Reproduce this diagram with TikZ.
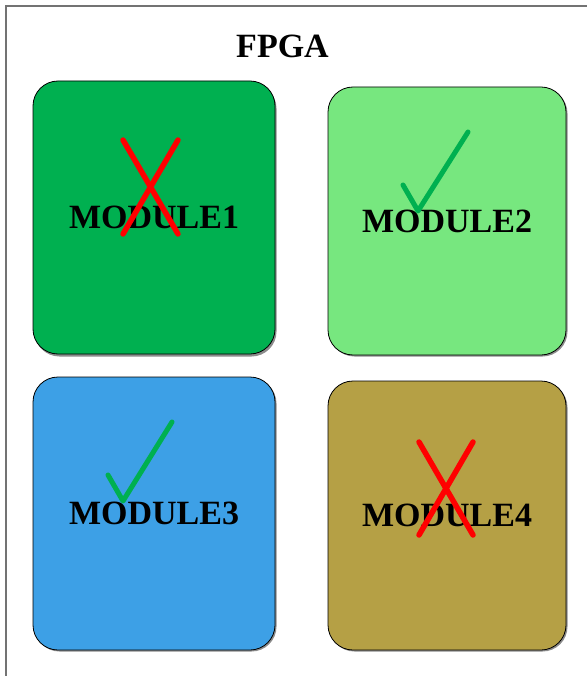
\documentclass[tikz,border=0pt]{standalone}
\usepackage{fontspec}
\setmainfont{Liberation Serif}
\definecolor{modA}{HTML}{00B050}
\definecolor{modB}{HTML}{77E77F}
\definecolor{modC}{HTML}{3DA0E6}
\definecolor{modD}{HTML}{B5A045}
\definecolor{okgreen}{HTML}{00B050}
\definecolor{badred}{HTML}{FF0000}
\tikzset{
  module/.style={draw=black, line width=0.8pt, rounded corners=25pt,
    minimum width=#1, minimum height=273pt, inner sep=0pt,
    font=\fontsize{34}{40}\selectfont\bfseries},
  shade box/.style={fill=black!45, rounded corners=25pt},
  crossmark/.style={draw=badred, line width=5.5pt, line cap=round},
  tickmark/.style={draw=okgreen, line width=5pt, line cap=round, line join=round},
  frame/.style={draw=black!55, line width=1.6pt},
  title/.style={font=\fontsize{34}{40}\selectfont\bfseries, anchor=base}
}
\begin{document}
\begin{tikzpicture}[x=1pt,y=-1pt]
  \useasboundingbox (0,0) rectangle (587,676);
  \fill[white] (0,0) rectangle (587,676);
  % outer board outline (only top and left edges fall inside the view)
  \draw[frame] (6,676) -- (6,6) -- (587,6);
  \node[title] (fpga) at (282.5,58) {FPGA};

  % soft shadows under the module boxes
  \fill[shade box] (34.5,83.5) rectangle (276.5,356.5);
  \fill[shade box] (329.5,88.5) rectangle (567.5,356.5);
  \fill[shade box] (34.5,378.5) rectangle (276.5,651.5);
  \fill[shade box] (329.5,382.5) rectangle (567.5,651.5);

  % module boxes
  \node[module=242pt, fill=modA, minimum height=273pt] (m1) at (154,217.5) {MODULE1};
  \node[module=238pt, fill=modB, minimum height=268pt] (m2) at (447,221) {MODULE2};
  \node[module=242pt, fill=modC, minimum height=273pt] (m3) at (154,513.5) {MODULE3};
  \node[module=238pt, fill=modD, minimum height=269pt] (m4) at (447,515.5) {MODULE4};

  % status marks
  \draw[crossmark] (123,140) -- (178,234);
  \draw[crossmark] (178,140) -- (123,234);
  \draw[tickmark] (403,185) -- (418,211) -- (468,132);
  \draw[tickmark] (108,475) -- (123,501) -- (172,422);
  \draw[crossmark] (419,442) -- (473,535);
  \draw[crossmark] (473,442) -- (419,535);
\end{tikzpicture}
\end{document}
